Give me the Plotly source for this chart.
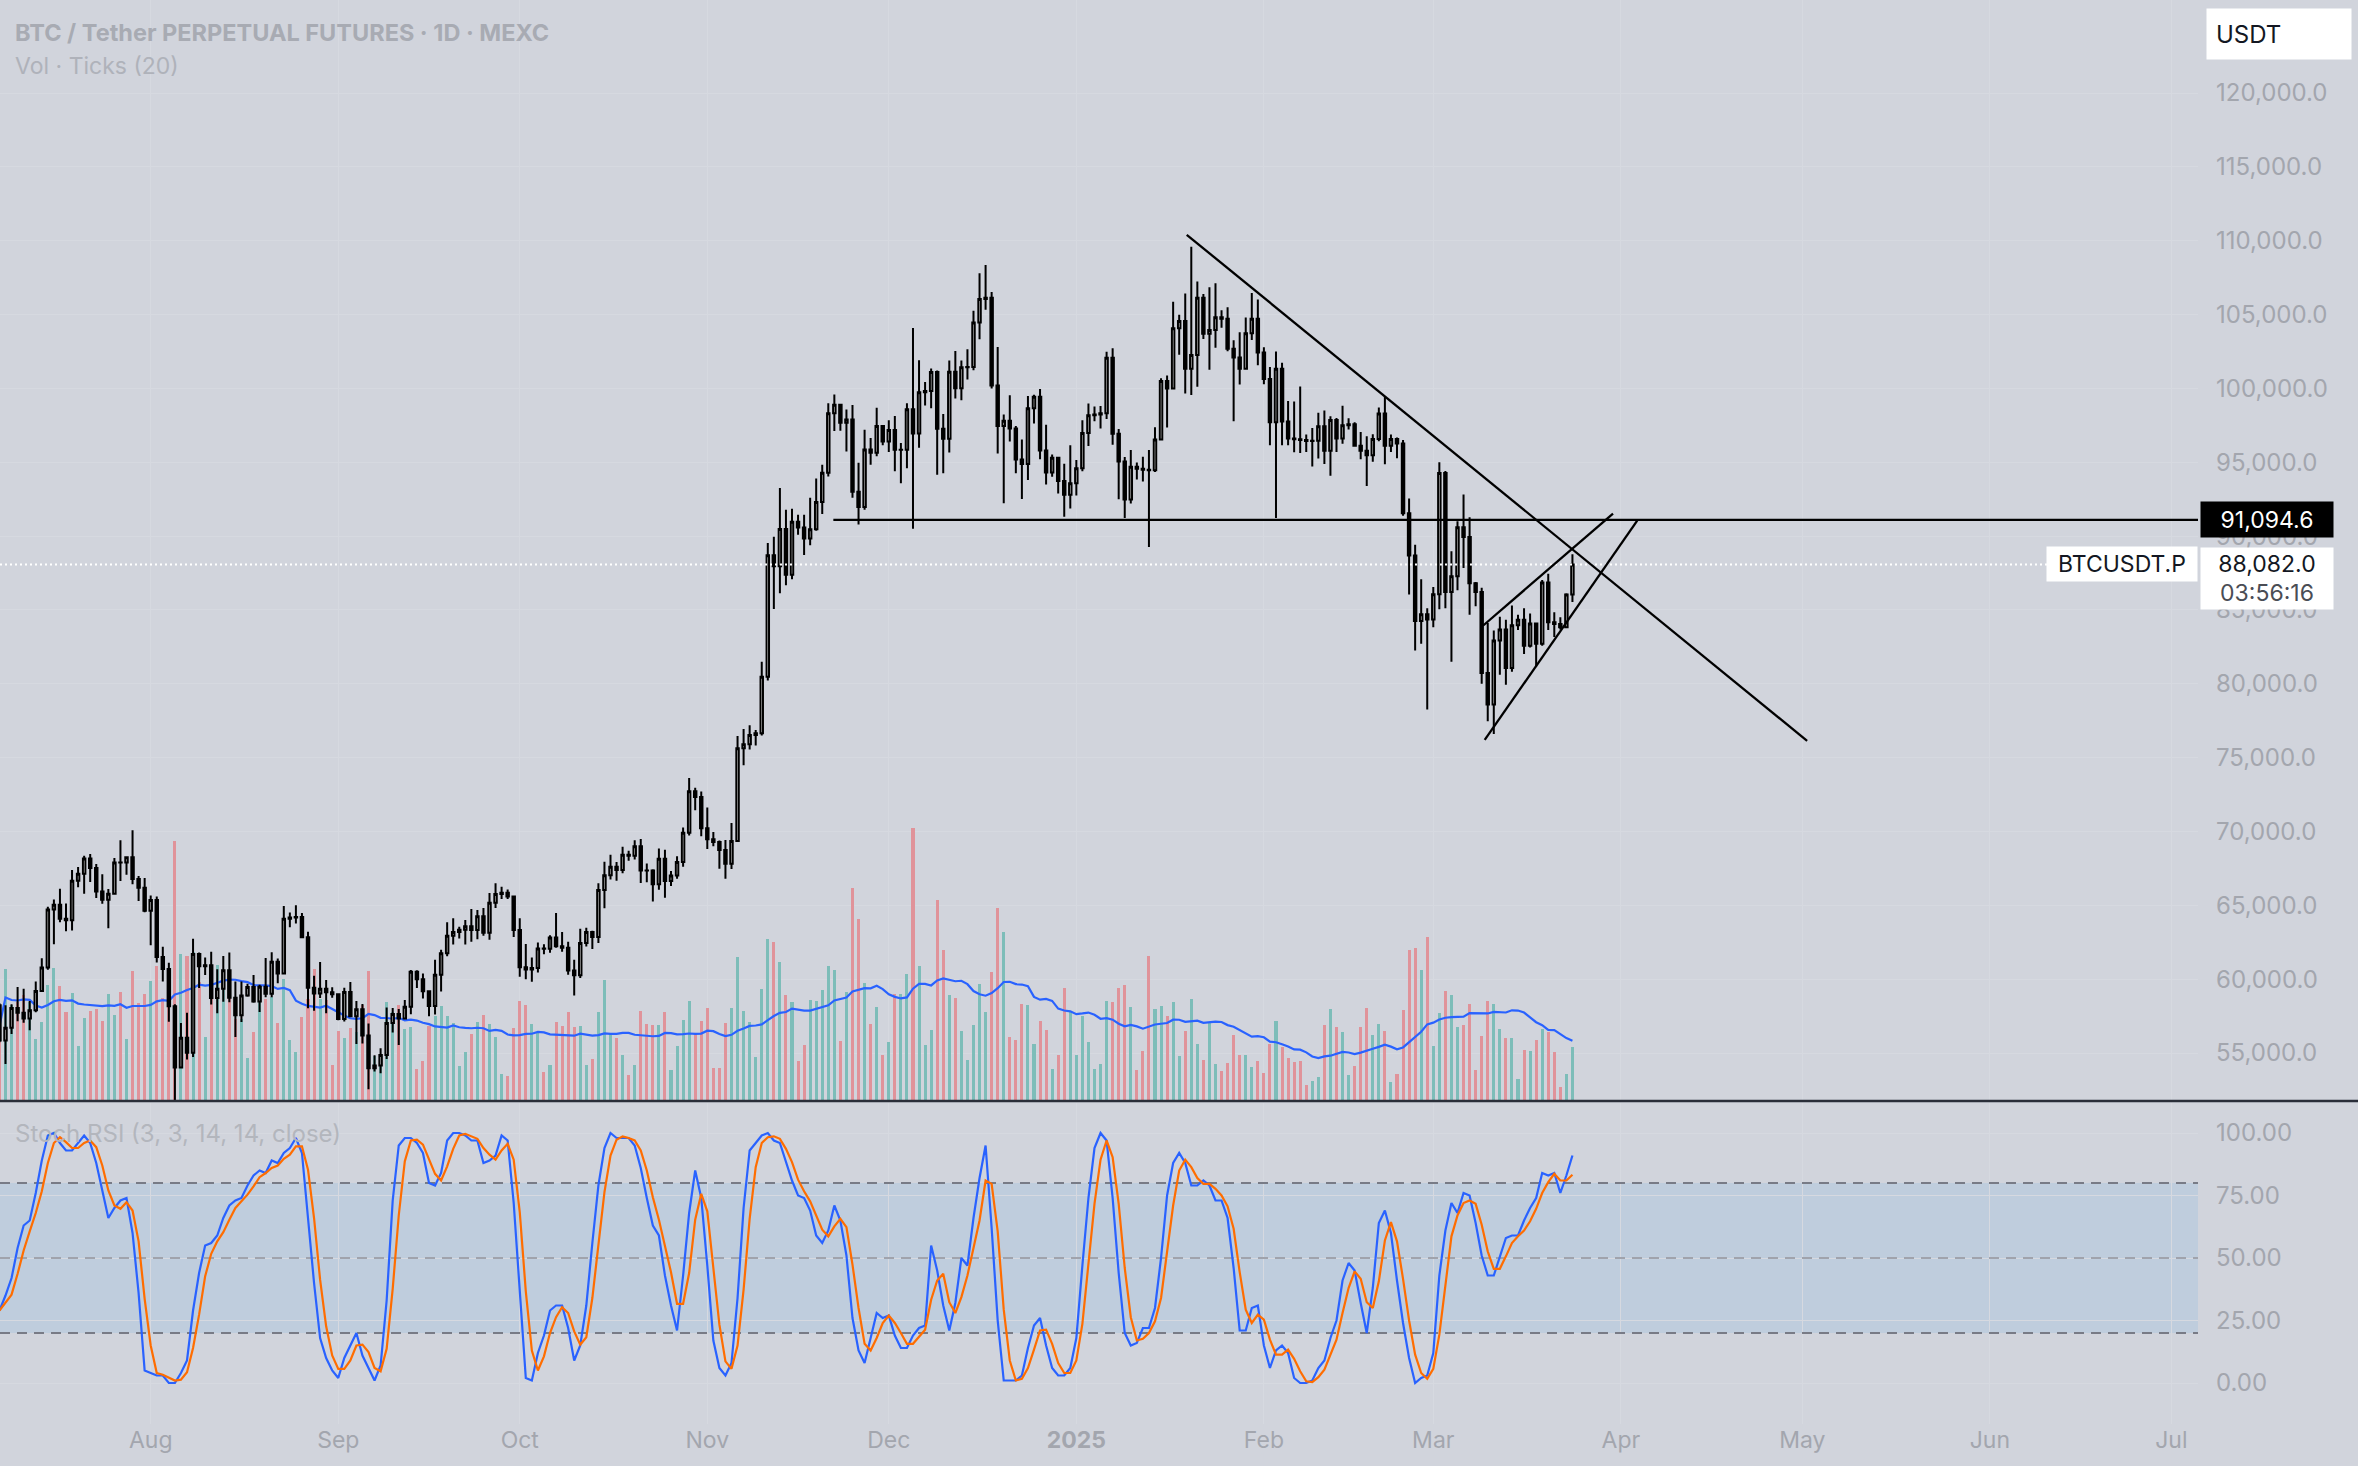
import numpy as np
import pandas as pd
import plotly.graph_objects as go

# ---------------- data (daily, starting 2024-07-07) ----------------
start_date = "2024-07-07"

open_ = [
    58239,55857,56714,58051,57725,57339,57889,59204,60797,64724,
    65043,64087,63987,66660,67139,68165,67532,65936,65372,65777,
    67907,67896,68249,66784,66188,64628,65354,61498,60697,58161,
    54018,56030,55027,61710,60880,60945,58719,59354,60609,58737,
    57560,58894,59478,58483,59493,59012,61175,60381,64094,64178,
    64219,62834,59415,59034,59359,59123,58973,57301,59132,57487,
    57970,56180,53962,54160,54869,57042,57635,57339,58132,60498,
    60000,59182,58192,60309,61759,62947,63201,63348,63578,63339,
    64262,63152,65173,65769,65858,65602,63327,60805,60649,60752,
    62086,62058,62819,62224,62131,60582,60274,62445,63193,62851,
    66046,67042,67612,67399,68418,68362,69001,67367,67361,66432,
    68161,66642,67014,67930,69907,72720,72339,70215,69482,69289,
    68741,67811,69359,75640,75904,76538,76649,80474,88701,87955,
    90485,87391,90977,90578,89845,90464,92310,94286,98317,98892,
    97672,97900,93010,91965,95863,95643,97460,96407,97185,95840,
    95849,98587,96945,99740,99831,101109,97276,96593,101125,100004,
    101424,101450,104463,106058,106133,100204,97461,97805,97291,95187,
    94881,98663,99430,95792,94299,95300,93738,92792,93577,94592,
    96985,98174,98236,98314,102078,96922,95043,92484,94701,94566,
    94488,94450,96534,100505,99988,104078,104556,101331,102260,106143,
    103706,103960,104819,104714,102682,102087,101332,103733,104722,102429,
    100635,97700,101328,97763,96612,96554,96506,96444,96462,97430,
    95778,97869,96608,97500,97569,96118,95780,95467,96579,98308,
    96125,96577,96273,91552,88680,84250,84708,84349,86064,94270,
    86220,87281,90606,89931,86801,86222,80734,78595,82932,83681,
    81067,83969,84344,82579,84076,82718,86855,84167,84044,83832,
    86054,
]

high = [
    58371,58236,58296,59470,59359,58526,59850,61420,64900,65388,
    66128,65133,67386,67598,68366,68480,67792,67102,66112,68200,
    69399,68318,70079,66986,66849,65659,65596,62198,61117,58305,
    57040,57736,62745,61800,61464,61858,60680,61572,61800,59850,
    59847,59686,60284,59618,61432,61820,61400,64955,64513,65000,
    64481,63212,60234,61166,59944,59462,59054,59425,59809,58520,
    58327,57008,54850,55318,58088,58044,57981,58588,60625,60610,
    60380,59210,61320,62000,63850,64133,63559,64000,64745,64688,
    64817,65839,66498,66260,66076,65618,64130,62390,61477,62484,
    62370,62975,64478,63200,62543,61320,63417,63480,63285,66500,
    67950,68424,67939,68969,68694,69400,69500,67836,67451,68850,
    68771,67317,68332,70270,73620,72961,72700,71632,69960,69389,
    69432,70577,76460,76943,77199,76880,81500,89530,89956,93265,
    91790,91850,91440,91450,92594,93905,94831,98988,99588,98908,
    98564,98871,94973,97208,96650,98693,97463,97836,98130,96305,
    99000,104088,101898,100439,101351,101215,98270,101888,102540,101895,
    102650,105250,107793,108353,106524,102800,98233,99540,97448,96538,
    99487,99569,99963,97544,95525,95300,94903,96150,95151,97839,
    98976,98778,98813,102482,102724,97258,95349,95837,94977,95378,
    95837,97371,100681,100873,105865,104988,106422,109588,107240,106394,
    106850,107120,105286,105500,103260,103800,104800,106457,106012,102783,
    101456,102500,101745,99149,99120,100137,96880,97323,98345,98500,
    98119,98000,98826,97972,97704,97046,96753,96899,98711,99475,
    96880,96671,96503,92540,89414,87078,85120,86558,95000,94416,
    88967,91000,92810,91283,86897,86500,84123,83617,84539,84336,
    85309,84672,85117,84756,84076,87021,87443,84850,84513,86129,
    88765,
]

low = [
    55724,54260,56289,57157,57052,56542,57756,59204,60632,62373,
    63854,63238,63300,66222,65777,66573,65500,65111,63441,65751,
    66650,67066,66428,65302,64530,62303,61130,59850,57122,49000,
    53962,54558,54730,59400,60287,58286,57688,58478,58433,56078,
    57110,58813,58408,57787,58783,58783,59724,60345,63520,63773,
    62800,58034,57860,58723,57701,58744,57217,57128,57415,55606,
    55643,52550,53745,53629,54591,56386,55545,57324,57633,59400,
    58697,57493,57610,59174,61555,62350,62758,62357,62538,62700,
    62947,62670,64819,65422,65432,62856,60164,60000,59828,60459,
    61689,61798,62128,61860,60300,58895,60087,62209,62050,62457,
    64800,66750,66666,67177,68020,68105,66518,66571,65260,66049,
    65520,66313,66800,67618,69730,71436,69685,68820,69000,67478,
    66803,67458,69322,74480,75555,75820,76492,80216,85072,86127,
    86668,87073,90087,88722,89376,90357,91500,94040,97122,97136,
    95734,92600,90791,91792,94827,95407,96150,95693,94395,93578,
    94587,90500,95981,98844,98657,94150,94256,95658,99311,99205,
    100609,101227,103333,105321,100000,95587,92232,96398,94250,92520,
    93806,97632,95200,93500,94015,92881,91317,91866,92743,94392,
    96100,97781,97291,97926,96181,92500,91220,92207,93840,93692,
    89256,94346,96500,97353,99950,102277,99651,99550,100119,103339,
    101262,102750,104106,102520,97777,100272,101328,103278,101560,100279,
    96150,91231,96150,96155,95676,95620,95688,94713,95256,94876,
    94088,95700,96252,97223,96046,95205,93388,95029,96415,94871,
    95688,95270,91371,86050,82256,82716,78258,83824,85050,85117,
    81500,86334,87836,84667,85248,80000,77459,76606,80620,79939,
    80818,83639,82017,82457,81179,82569,83647,83175,83674,83795,
    85541,
]

close = [
    55857,56714,58051,57725,57339,57889,59204,60797,64724,65043,
    64087,63987,66660,67139,68165,67532,65936,65372,65777,67907,
    67896,68249,66784,66188,64628,65354,61498,60697,58161,54018,
    56030,55027,61710,60880,60945,58719,59354,60609,58737,57560,
    58894,59478,58483,59493,59012,61175,60381,64094,64178,64219,
    62834,59415,59034,59359,59123,58973,57301,59132,57487,57970,
    56180,53962,54160,54869,57042,57635,57339,58132,60498,60000,
    59182,58192,60309,61759,62947,63201,63348,63578,63339,64262,
    63152,65173,65769,65858,65602,63327,60805,60649,60752,62086,
    62058,62819,62224,62131,60582,60274,62445,63193,62851,66046,
    67042,67612,67399,68418,68362,69001,67367,67361,66432,68161,
    66642,67014,67930,69907,72720,72339,70215,69482,69289,68741,
    67811,69359,75640,75904,76538,76649,80474,88701,87955,90485,
    87391,90977,90578,89845,90464,92310,94286,98317,98892,97672,
    97900,93010,91965,95863,95643,97460,96407,97185,95840,95849,
    98587,96945,99740,99831,101109,97276,96593,101125,100004,101424,
    101450,104463,106058,106133,100204,97461,97805,97291,95187,94881,
    98663,99430,95792,94299,95300,93738,92792,93577,94592,96985,
    98174,98236,98314,102078,96922,95043,92484,94701,94566,94488,
    94450,96534,100505,99988,104078,104556,101331,102260,106143,103706,
    103960,104819,104714,102682,102087,101332,103733,104722,102429,100635,
    97700,101328,97763,96612,96554,96506,96444,96462,97430,95778,
    97869,96608,97500,97569,96118,95780,95467,96579,98308,96125,
    96577,96273,91552,88680,84250,84708,84349,86064,94270,86220,
    87281,90606,89931,86801,86222,80734,78595,82932,83681,81067,
    83969,84344,82579,84076,82718,86855,84167,84044,83832,86054,
    88082,
]

# volume (ticks, thousands)
volume = [
    75,132,96,99,106,99,62,79,116,133,
    115,89,108,55,83,90,92,80,107,86,
    109,62,130,98,107,120,135,103,103,260,
    147,145,149,119,64,105,136,122,129,82,
    82,43,69,99,102,104,78,122,61,49,
    84,102,132,102,101,36,70,63,73,69,
    96,130,45,44,99,89,96,72,74,32,
    40,75,85,95,85,78,35,49,67,79,
    86,77,64,27,25,73,100,96,77,69,
    29,36,79,75,89,74,75,36,42,89,
    121,67,63,46,26,36,90,77,76,76,
    89,31,55,81,100,68,80,93,33,33,
    78,93,144,90,79,44,112,162,159,139,
    106,99,40,56,101,100,111,135,131,60,
    109,213,182,118,77,94,46,59,107,107,
    127,273,135,56,71,201,151,106,103,70,
    41,76,117,89,129,193,169,64,61,97,
    96,57,80,71,32,46,113,89,46,85,
    59,32,37,100,99,113,116,94,31,50,
    145,92,95,85,99,45,70,102,57,41,
    79,37,30,38,66,46,46,34,40,28,
    57,80,54,43,39,40,16,20,24,76,
    92,74,69,26,35,74,93,66,77,70,
    19,27,91,151,153,131,164,55,88,110,
    106,74,76,97,31,65,100,97,72,63,
    63,22,51,50,61,72,69,49,14,27,
    54,
]

# Stoch RSI %K
stoch_k = [
    29,
    35,42,54,63,65,76,89,99,100,96,
    93,93,96,99,96,88,77,66,70,73,
    74,60,36,5,4,3,3,0,0,4,
    9,29,44,55,56,59,66,71,73,74,
    79,83,85,84,89,88,92,94,98,92,
    66,40,18,10,5,2,10,15,20,11,
    6,1,7,33,73,95,98,98,96,92,
    80,79,84,97,100,100,99,97,97,88,
    89,91,99,97,72,36,2,1,12,19,
    29,31,31,22,9,15,31,56,79,94,
    100,98,98,98,95,86,74,63,59,43,
    31,21,43,68,85,74,47,17,6,3,
    8,34,70,93,96,99,100,97,96,88,
    81,75,74,69,59,56,61,71,65,51,
    26,13,8,18,28,26,27,19,14,14,
    19,22,23,55,45,31,21,32,50,47,
    66,82,95,62,25,1,1,1,3,14,
    23,26,15,6,3,3,6,18,47,74,
    94,100,97,74,44,20,15,16,22,22,
    30,50,75,88,92,88,79,79,81,79,
    73,73,66,46,21,21,30,31,15,6,
    13,15,12,2,0,0,1,6,9,18,
    25,41,48,45,32,20,38,64,69,60,
    41,24,10,0,2,3,12,43,61,72,
    68,76,75,64,51,43,43,51,58,59,
    59,65,70,74,84,83,84,76,83,91,
]

# drawings
resistance_level = 91094.6
resistance_start = "2024-11-21 20:00"
last_price = 88082.0
countdown = "03:56:16"
trend_down_x = ["2025-01-19 06:00", "2025-05-01 19:00"]
trend_down_y = [110400, 76140]
wedge_up_x = ["2025-03-09 05:00", "2025-03-30 17:00"]
wedge_up_y = [83930, 91525]
wedge_lo_x = ["2025-03-09 12:00", "2025-04-03 17:00"]
wedge_lo_y = [76200, 91050]
stoch_levels = [80, 50, 20]

month_ticks = ["2024-08-01","2024-09-01","2024-10-01","2024-11-01","2024-12-01",
               "2025-01-01","2025-02-01","2025-03-01","2025-04-01","2025-05-01",
               "2025-06-01","2025-07-01"]
month_labels = ["Aug","Sep","Oct","Nov","Dec","<b>2025</b>","Feb","Mar","Apr","May","Jun","Jul"]
price_ticks = list(range(55000, 120001, 5000))
stoch_ticks = [0, 25, 50, 75, 100]

# ---------------- derived ----------------
dates = pd.date_range(start_date, periods=len(close), freq="D")
df = pd.DataFrame(dict(o=open_, h=high, l=low, c=close, v=volume, k=stoch_k), index=dates)
vol_ma = df["v"].rolling(20, min_periods=1).mean()
stoch_d = df["k"].rolling(3, min_periods=1).mean()
up = df["c"] >= df["o"]
vol_colors = np.where(up, "#7dbdb9", "#e0939a")

BG = "#d1d4dc"
GRID = "#d6d9e0"
TXT = "#a3a6ae"
FONT = "Inter"

W, H = 2358, 1466
ML, MR, MT, MB = 0, 160, 0, 42
plot_h = H - MT - MB
main_bottom_px = 1101
stoch_top_px = 1103
main_dom = [1 - main_bottom_px / plot_h, 1]
stoch_dom = [0, 1 - stoch_top_px / plot_h]

x_range = ["2024-07-07 02:10", "2025-07-05 09:36"]
price_range = [51753, 126297]
vol_range = [0, main_bottom_px]
stoch_range = [-16.4, 112]

fig = go.Figure()

fig.add_trace(go.Bar(x=df.index, y=df["v"], marker=dict(color=vol_colors, line=dict(width=0)),
                     width=0.5 * 86400000, xaxis="x", yaxis="y", showlegend=False, hoverinfo="skip"))
fig.add_trace(go.Scatter(x=df.index, y=vol_ma, mode="lines", line=dict(color="#2962ff", width=2.2),
                         xaxis="x", yaxis="y", showlegend=False, hoverinfo="skip"))
fig.add_trace(go.Candlestick(x=df.index, open=df["o"], high=df["h"], low=df["l"], close=df["c"],
                             increasing=dict(line=dict(color="#000000", width=2), fillcolor="#ffffff"),
                             decreasing=dict(line=dict(color="#000000", width=2), fillcolor="#000000"),
                             whiskerwidth=0, xaxis="x", yaxis="y2", showlegend=False))
# stoch level lines (under the oscillator lines)
for lvl in stoch_levels:
    col = "#a0a3ac" if lvl == 50 else "#787b86"
    fig.add_trace(go.Scatter(x=x_range, y=[lvl, lvl], mode="lines",
                             line=dict(color=col, width=2, dash="10px,7px"),
                             xaxis="x2", yaxis="y3", showlegend=False, hoverinfo="skip"))
fig.add_trace(go.Scatter(x=df.index, y=df["k"], mode="lines", line=dict(color="#2962ff", width=2.2),
                         xaxis="x2", yaxis="y3", showlegend=False))
fig.add_trace(go.Scatter(x=df.index, y=stoch_d, mode="lines", line=dict(color="#ff6d00", width=2.2),
                         xaxis="x2", yaxis="y3", showlegend=False))

shapes = []
# stoch band
shapes.append(dict(type="rect", xref="paper", x0=0, x1=1, yref="y3", y0=stoch_levels[2], y1=stoch_levels[0],
                   fillcolor="#bfcddd", line=dict(width=0), layer="below"))
# pane separator
shapes.append(dict(type="line", xref="paper", x0=0, x1=W / (W - MR), yref="paper",
                   y0=main_dom[0], y1=main_dom[0], line=dict(color="#2a2e39", width=2.5), layer="above"))
# last price dotted line
shapes.append(dict(type="line", xref="paper", x0=0, x1=1, yref="y2", y0=last_price, y1=last_price,
                   line=dict(color="#ffffff", width=2, dash="2px,3px"), layer="above"))
# resistance
shapes.append(dict(type="line", xref="x", x0=resistance_start, x1=x_range[1], yref="y2",
                   y0=resistance_level, y1=resistance_level, line=dict(color="#000000", width=2.3), layer="above"))
for xs, ys in [(trend_down_x, trend_down_y), (wedge_up_x, wedge_up_y), (wedge_lo_x, wedge_lo_y)]:
    shapes.append(dict(type="line", xref="x", x0=xs[0], x1=xs[1], yref="y2", y0=ys[0], y1=ys[1],
                       line=dict(color="#000000", width=2.3), layer="above"))

ann = []
ann.append(dict(text="<b>BTC / Tether PERPETUAL FUTURES · 1D · MEXC</b>", xref="paper", yref="paper",
                x=0, y=1, xanchor="left", yanchor="middle", xshift=13, yshift=-32, showarrow=False,
                font=dict(family=FONT, size=23.5, color="#a8abb3")))
ann.append(dict(text="Vol · Ticks (20)", xref="paper", yref="paper", x=0, y=1, xanchor="left",
                yanchor="middle", xshift=13, yshift=-66, showarrow=False,
                font=dict(family=FONT, size=23, color="#afb2ba")))
ann.append(dict(text="Stoch RSI (3, 3, 14, 14, close)", xref="paper", yref="y3", x=0, y=100,
                xanchor="left", yanchor="middle", xshift=13, showarrow=False,
                font=dict(family=FONT, size=24, color="#b3b6bd")))
ann.append(dict(text="USDT", xref="paper", yref="paper", x=1, y=1, xanchor="left", yanchor="top",
                xshift=8, yshift=-8, showarrow=False, align="left", width=126, height=32, borderpad=9,
                bgcolor="#ffffff", font=dict(family=FONT, size=24, color="#131722")))
ann.append(dict(text=f"{resistance_level:,.1f}", xref="paper", yref="y2", x=1, y=resistance_level,
                xanchor="left", yanchor="middle", xshift=2, showarrow=False, width=124, height=27,
                borderpad=4, bgcolor="#000000", font=dict(family=FONT, size=23, color="#ffffff")))
ann.append(dict(text="BTCUSDT.P", xref="paper", yref="y2", x=1, y=last_price, xanchor="right",
                yanchor="middle", showarrow=False, width=142, height=26, borderpad=4,
                bgcolor="#ffffff", font=dict(family=FONT, size=23, color="#131722")))
ann.append(dict(text=f"{last_price:,.1f}<br><span style='color:#4a4d55'>{countdown}</span>",
                xref="paper", yref="y2", x=1, y=last_price, xanchor="left", yanchor="top",
                xshift=2, yshift=17, showarrow=False, width=124, height=53, borderpad=4,
                bgcolor="#ffffff", font=dict(family=FONT, size=23, color="#131722")))

axis_common = dict(showline=False, zeroline=False, ticks="")
fig.update_layout(
    width=W, height=H, margin=dict(l=ML, r=MR, t=MT, b=MB),
    paper_bgcolor=BG, plot_bgcolor=BG, showlegend=False,
    boxgap=0.42, bargap=0, dragmode=False,
    xaxis=dict(domain=[0, 1], anchor="y", range=x_range, type="date", tickvals=month_ticks,
               showticklabels=False, showgrid=True, gridcolor=GRID, gridwidth=1,
               rangeslider=dict(visible=False), **axis_common),
    xaxis2=dict(domain=[0, 1], anchor="y3", range=x_range, type="date", matches="x",
                tickvals=month_ticks, ticktext=month_labels, showgrid=True, gridcolor=GRID,
                tickfont=dict(family=FONT, size=23, color=TXT), **axis_common),
    yaxis=dict(domain=main_dom, anchor="x", range=vol_range, showgrid=False,
               showticklabels=False, **axis_common),
    yaxis2=dict(domain=main_dom, anchor="x", overlaying="y", side="right", range=price_range,
                tickvals=price_ticks, tickformat=",.1f", showgrid=True, gridcolor=GRID,
                tickfont=dict(family=FONT, size=24, color=TXT), ticklabelstandoff=17, **axis_common),
    yaxis3=dict(domain=stoch_dom, anchor="x2", side="right", range=stoch_range,
                tickvals=stoch_ticks, tickformat=".2f", showgrid=True, gridcolor=GRID,
                tickfont=dict(family=FONT, size=24, color=TXT), ticklabelstandoff=17, **axis_common),
    shapes=shapes, annotations=ann,
)

fig.write_html("out.html")
